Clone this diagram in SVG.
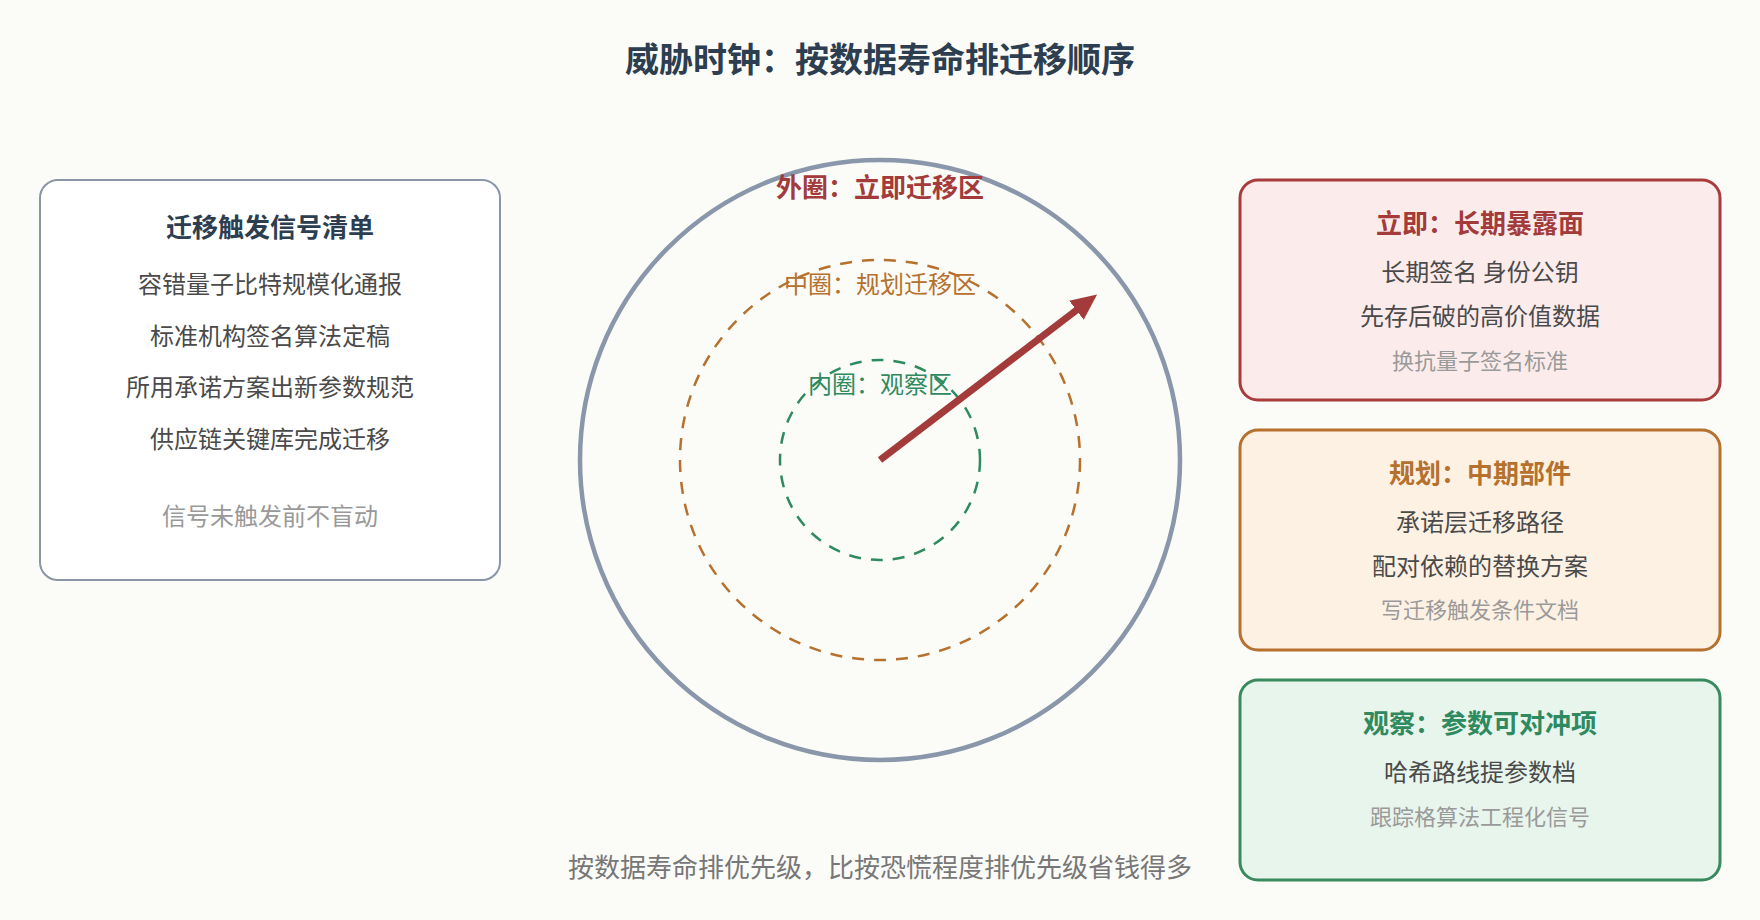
<svg xmlns="http://www.w3.org/2000/svg" width="1760" height="920" viewBox="0 0 1760 920">
<defs>
<style>
text{font-family:"Noto Sans CJK SC","Noto Sans",sans-serif;text-anchor:middle}
.title{font-size:34px;font-weight:700;fill:#2c3e50}
.h{font-size:26px;font-weight:700}
.b{font-size:24px;fill:#4a4a4a}
.g{font-size:24px;fill:#999}
.g2{font-size:22px;fill:#9a9a9a}
.foot{font-size:26px;fill:#777}
</style>
<marker id="ah" markerUnits="userSpaceOnUse" markerWidth="26" markerHeight="24" viewBox="0 0 26 24" refX="2" refY="12" orient="auto">
<path d="M0,0 L26,12 L0,24 Z" fill="#a33b3b"/>
</marker>
</defs>
<rect width="1760" height="920" fill="#fbfbf7"/>
<text class="title" x="880" y="72">威胁时钟：按数据寿命排迁移顺序</text>

<g id="clock">
<circle cx="880" cy="460" r="300" fill="none" stroke="#8a96aa" stroke-width="4.5"/>
<circle cx="880" cy="460" r="200" fill="none" stroke="#b5712d" stroke-width="2.5" stroke-dasharray="12 10"/>
<circle cx="880" cy="460" r="100" fill="none" stroke="#2f8a5f" stroke-width="2.5" stroke-dasharray="12 10"/>
<text class="h" x="880" y="197" fill="#a33b3b">外圈：立即迁移区</text>
<text x="880" y="293" font-size="24" fill="#b5712d">中圈：规划迁移区</text>
<text x="880" y="393" font-size="24" fill="#2f8a5f">内圈：观察区</text>
</g>

<g id="connectors">
<line x1="880" y1="460" x2="1078" y2="309" stroke="#a33b3b" stroke-width="7" marker-end="url(#ah)"/>
</g>

<g id="signals">
<rect x="40" y="180" width="460" height="400" rx="18" fill="#ffffff" stroke="#8a95a8" stroke-width="2"/>
<text class="h" x="270" y="237" fill="#2c3e50">迁移触发信号清单</text>
<text class="b" x="270" y="293">容错量子比特规模化通报</text>
<text class="b" x="270" y="345">标准机构签名算法定稿</text>
<text class="b" x="270" y="396">所用承诺方案出新参数规范</text>
<text class="b" x="270" y="448">供应链关键库完成迁移</text>
<text class="g" x="270" y="525">信号未触发前不盲动</text>
</g>

<g id="immediate">
<rect x="1240" y="180" width="480" height="220" rx="18" fill="#fbeceb" stroke="#a83c3c" stroke-width="3"/>
<text class="h" x="1480" y="233" fill="#a33b3b">立即：长期暴露面</text>
<text class="b" x="1480" y="281">长期签名 身份公钥</text>
<text class="b" x="1480" y="325">先存后破的高价值数据</text>
<text class="g2" x="1480" y="369">换抗量子签名标准</text>
</g>

<g id="planned">
<rect x="1240" y="430" width="480" height="220" rx="18" fill="#fdf1e4" stroke="#b5712d" stroke-width="3"/>
<text class="h" x="1480" y="483" fill="#b5712d">规划：中期部件</text>
<text class="b" x="1480" y="531">承诺层迁移路径</text>
<text class="b" x="1480" y="575">配对依赖的替换方案</text>
<text class="g2" x="1480" y="618">写迁移触发条件文档</text>
</g>

<g id="watch">
<rect x="1240" y="680" width="480" height="200" rx="18" fill="#e8f5ec" stroke="#3a8a5f" stroke-width="3"/>
<text class="h" x="1480" y="733" fill="#2f8a5f">观察：参数可对冲项</text>
<text class="b" x="1480" y="781">哈希路线提参数档</text>
<text class="g2" x="1480" y="825">跟踪格算法工程化信号</text>
</g>

<text class="foot" x="880" y="877">按数据寿命排优先级，比按恐慌程度排优先级省钱得多</text>
</svg>
